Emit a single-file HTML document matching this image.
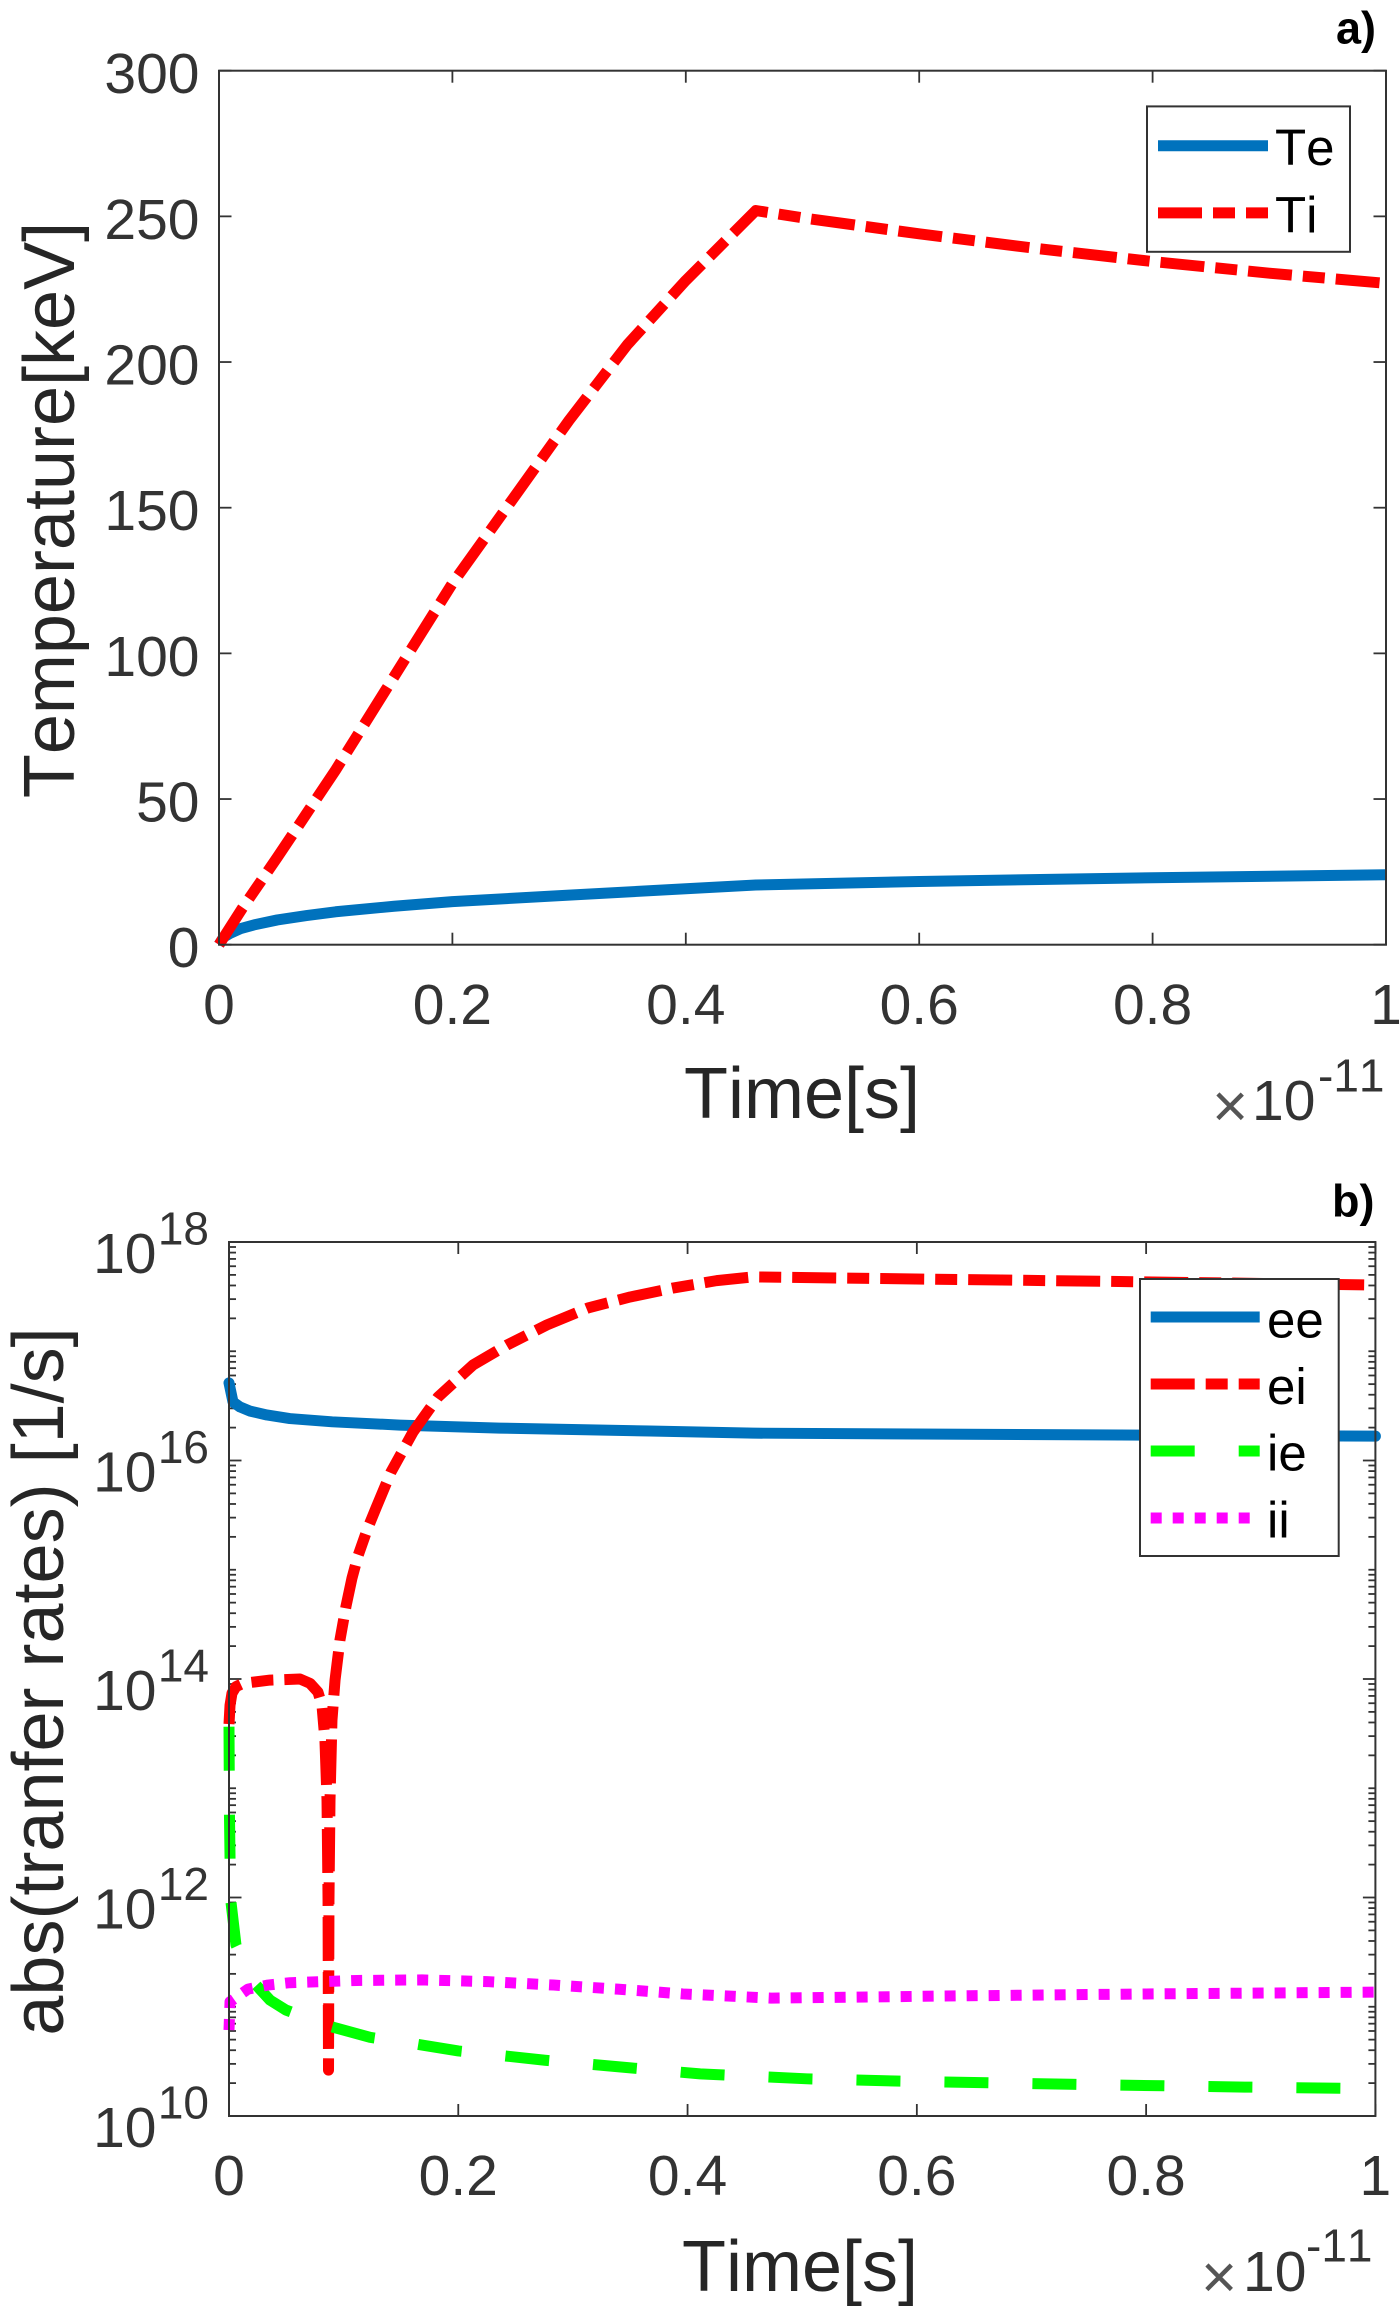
<!DOCTYPE html>
<html lang="en">
<head>
<meta charset="utf-8">
<title>Temperature and transfer rates versus time</title>
<style>
  html, body { margin: 0; padding: 0; background: #fff; }
  svg { display: block; font-family: "Liberation Sans", Arial, sans-serif; font-kerning: none; }
  .tick-label { font-size: 57px; fill: #333; }
  .exponent { font-size: 46px; fill: #333; }
  .axis-title { font-size: 72px; fill: #262626; }
  .legend-text { font-size: 51px; fill: #000; }
  .panel-tag { font-size: 45px; font-weight: 700; fill: #000; }
  .times-sign { font-size: 62px; fill: #555; }
  .frame { fill: none; stroke: #333; stroke-width: 2; }
  .legend-box { fill: #fff; stroke: #333; stroke-width: 2; }
</style>
</head>
<body>
<svg id="figure" width="1400" height="2314" viewBox="0 0 1400 2314" xmlns="http://www.w3.org/2000/svg">
  <rect width="1400" height="2314" fill="#fff"/>

  <g id="panel-a">
    <text class="panel-tag" x="1336" y="43.5">a)</text>
    <g id="a-ticks"></g>
    <g id="a-series"></g>
    <rect class="frame" x="219" y="70.7" width="1167" height="874"/>
    <text class="axis-title" transform="translate(74,510) rotate(-90)" text-anchor="middle">Temperature[keV]</text>
    <text class="axis-title" x="802" y="1118" text-anchor="middle">Time[s]</text>
    <g>
      <text class="times-sign" x="1212" y="1127">×</text>
      <text class="tick-label" x="1252" y="1120">10</text>
      <text class="exponent" x="1318" y="1091.7">-11</text>
    </g>
    <g>
      <rect class="legend-box" x="1147" y="106.4" width="203" height="145.4"/>
      <line x1="1158" x2="1268" y1="145.7" y2="145.7" stroke="#0072BD" stroke-width="11"/>
      <text class="legend-text" x="1275" y="165">Te</text>
      <line x1="1158" x2="1268" y1="212.9" y2="212.9" stroke="#f00" stroke-width="11" stroke-dasharray="44 11 22 11"/>
      <text class="legend-text" x="1275" y="232.5">Ti</text>
    </g>
  </g>

  <g id="panel-b">
    <text class="panel-tag" x="1332" y="1216.7">b)</text>
    <g id="b-ticks"></g>
    <g id="b-series"></g>
    <rect class="frame" x="229" y="1242" width="1146.4" height="874"/>
    <text class="axis-title" transform="translate(63,1681.5) rotate(-90)" text-anchor="middle">abs(tranfer rates) [1/s]</text>
    <text class="axis-title" x="800" y="2291" text-anchor="middle">Time[s]</text>
    <g>
      <text class="times-sign" x="1201" y="2298">×</text>
      <text class="tick-label" x="1243" y="2291">10</text>
      <text class="exponent" x="1306" y="2261.7">-11</text>
    </g>
    <g>
      <rect class="legend-box" x="1140" y="1279" width="198.7" height="277"/>
      <line x1="1150.7" x2="1259.7" y1="1317" y2="1317" stroke="#0072BD" stroke-width="11"/>
      <text class="legend-text" x="1267" y="1337.3">ee</text>
      <line x1="1150.7" x2="1259.7" y1="1384" y2="1384" stroke="#f00" stroke-width="11" stroke-dasharray="44 11 22 11"/>
      <text class="legend-text" x="1267" y="1404">ei</text>
      <line x1="1150.7" x2="1259.7" y1="1451" y2="1451" stroke="#0f0" stroke-width="11" stroke-dasharray="44 44"/>
      <text class="legend-text" x="1267" y="1470.7">ie</text>
      <line x1="1150.7" x2="1259.7" y1="1518" y2="1518" stroke="#f0f" stroke-width="11" stroke-dasharray="11 11"/>
      <text class="legend-text" x="1267" y="1537.3">ii</text>
    </g>
  </g>
</svg>

<script>
// Panel a data (time in units of 1e-11 s, temperature in keV)
const timeTicks = [0, 0.2, 0.4, 0.6, 0.8, 1];
const timeTickLabels = ['0', '0.2', '0.4', '0.6', '0.8', '1'];
const tempTicks = [0, 50, 100, 150, 200, 250, 300];
const tempTickLabels = ['0', '50', '100', '150', '200', '250', '300'];
const teTime = [0, 0.004, 0.01, 0.019, 0.03, 0.05, 0.075, 0.1, 0.15, 0.2, 0.3, 0.4, 0.46, 0.6, 0.8, 1];
const teValues = [0, 2.6, 4, 5.6, 6.8, 8.5, 10, 11.3, 13.2, 14.8, 17, 19.2, 20.5, 21.7, 23, 24];
const tiTime = [0, 0.02, 0.05, 0.1, 0.15, 0.2, 0.25, 0.3, 0.35, 0.4, 0.46, 0.5, 0.6, 0.7, 0.8, 0.9, 1];
const tiValues = [0, 12.5, 30, 60, 92, 124, 152, 180, 206, 228, 252, 249.5, 244, 239, 234.5, 230.5, 227];

// Panel b data (time in units of 1e-11 s, rates in 1/s)
const rateMajorExponents = [10, 12, 14, 16, 18];
const rateDecades = [10, 11, 12, 13, 14, 15, 16, 17];
const rateMinorMultiples = [2, 3, 4, 5, 6, 7, 8, 9];
const eeTime = [0, 0.0035, 0.0096, 0.018, 0.033, 0.053, 0.09, 0.149, 0.236, 0.367, 0.457, 0.777, 1];
const eeValues = [5.13e16, 3.43e16, 3.09e16, 2.84e16, 2.61e16, 2.42e16, 2.26e16, 2.11e16, 1.98e16, 1.86e16, 1.78e16, 1.71e16, 1.67e16];
const eiTime = [0, 0.0009, 0.0026, 0.0061, 0.0122, 0.0358, 0.0619, 0.0707, 0.0776, 0.0811, 0.0837, 0.0855, 0.0864, 0.0868, 0.0872, 0.0881, 0.0898, 0.0925, 0.0968, 0.1021, 0.1073, 0.1125, 0.1204, 0.1282, 0.1413, 0.1605, 0.1823, 0.2128, 0.2425, 0.2773, 0.3132, 0.35, 0.3873, 0.4254, 0.457, 0.79, 1];
const eiValues = [3.87e13, 5.75e13, 7.41e13, 8.51e13, 9.12e13, 9.77e13, 1.0e14, 9.12e13, 7.59e13, 5.75e13, 2.75e13, 7.76e12, 9.55e11, 2.63e10, 9.55e11, 7.76e12, 4.17e13, 9.77e13, 2.28e14, 4.66e14, 8.4e14, 1.34e15, 2.31e15, 3.67e15, 7.85e15, 1.82e16, 3.81e16, 7.48e16, 1.14e17, 1.74e17, 2.49e17, 3.14e17, 3.79e17, 4.43e17, 4.79e17, 4.33e17, 4.04e17];
const ieTime = [0, 0.0004, 0.0009, 0.0017, 0.0061, 0.0218, 0.0358, 0.0497, 0.0881, 0.123, 0.162, 0.2, 0.2756, 0.3515, 0.411, 0.504, 0.581, 0.734, 0.886, 1];
const ieValues = [3.66e13, 5.69e12, 2.34e12, 9.12e11, 3.67e11, 1.66e11, 1.15e11, 9.33e10, 6.61e10, 5.25e10, 4.57e10, 3.94e10, 3.24e10, 2.75e10, 2.43e10, 2.19e10, 2.09e10, 1.95e10, 1.84e10, 1.78e10];
const iiTime = [0, 0.0009, 0.0166, 0.034, 0.0532, 0.1117, 0.1684, 0.225, 0.283, 0.339, 0.396, 0.473, 0.529, 0.645, 0.8, 1];
const iiValues = [6.12e10, 1.11e11, 1.45e11, 1.58e11, 1.66e11, 1.74e11, 1.76e11, 1.7e11, 1.58e11, 1.45e11, 1.31e11, 1.2e11, 1.22e11, 1.26e11, 1.31e11, 1.36e11];

const NS = 'http://www.w3.org/2000/svg';
const aLeft = 219, aRight = 1386, aTop = 70.7, aBottom = 944.7;
const bLeft = 229, bRight = 1375.4, bTop = 1242, bBottom = 2116;

function xA(t) { return aLeft + t * (aRight - aLeft); }
function yA(v) { return aBottom - (v / 300) * (aBottom - aTop); }
function xB(t) { return bLeft + t * (bRight - bLeft); }
function yB(r) { return bBottom - ((Math.log10(r) - 10) / 8) * (bBottom - bTop); }

function make(tag, parent, props, name) {
  const el = document.createElementNS(NS, tag);
  for (const k in props) el.setAttribute(k, props[k]);
  
  
  parent.appendChild(el);
  return el;
}
function tick(parent, x1, y1, x2, y2, name) {
  make('line', parent, { x1: x1, y1: y1, x2: x2, y2: y2, stroke: '#333', 'stroke-width': 1.8 }, name);
}
function series(parent, xs, ys, xf, yf, color, dash, name, cap) {
  const pts = xs.map((t, i) => xf(t).toFixed(2) + ',' + yf(ys[i]).toFixed(2)).join(' ');
  const props = { points: pts, fill: 'none', stroke: color, 'stroke-width': 11, 'stroke-linejoin': 'round', 'stroke-linecap': cap || 'butt' };
  if (dash) props['stroke-dasharray'] = dash;
  make('polyline', parent, props, name);
}
function text(parent, cls, x, y, anchor, content, name) {
  const el = make('text', parent, { class: cls, x: x, y: y, 'text-anchor': anchor }, name);
  el.textContent = content;
}

const aTicks = document.getElementById('a-ticks');
const aSeries = document.getElementById('a-series');
const bTicks = document.getElementById('b-ticks');
const bSeries = document.getElementById('b-series');

// Panel a axes
timeTicks.forEach((t, i) => {
  const x = xA(t);
  tick(aTicks, x, aBottom, x, aBottom - 12, 'panel-a-x-tick-bottom');
  tick(aTicks, x, aTop, x, aTop + 12, 'panel-a-x-tick-top');
  text(aTicks, 'tick-label', x, 1024, 'middle', timeTickLabels[i], 'panel-a-x-tick-label');
});
tempTicks.forEach((v, i) => {
  const y = yA(v);
  tick(aTicks, aLeft, y, aLeft + 12.5, y, 'panel-a-y-tick-left');
  tick(aTicks, aRight, y, aRight - 12.5, y, 'panel-a-y-tick-right');
  text(aTicks, 'tick-label', 199.5, y + 22.5, 'end', tempTickLabels[i], 'panel-a-y-tick-label');
});
series(aSeries, teTime, teValues, xA, yA, '#0072BD', null, 'te-line');
series(aSeries, tiTime, tiValues, xA, yA, '#f00', '44 11 22 11', 'ti-line');

// Panel b axes
timeTicks.forEach((t, i) => {
  const x = xB(t);
  tick(bTicks, x, bBottom, x, bBottom - 12, 'panel-b-x-tick-bottom');
  tick(bTicks, x, bTop, x, bTop + 12, 'panel-b-x-tick-top');
  text(bTicks, 'tick-label', x, 2195, 'middle', timeTickLabels[i], 'panel-b-x-tick-label');
});
rateDecades.forEach(d => {
  rateMinorMultiples.forEach(m => {
    const y = yB(m * Math.pow(10, d));
    tick(bTicks, bLeft, y, bLeft + 7, y, 'panel-b-y-minor-tick-left');
    tick(bTicks, bRight, y, bRight - 7, y, 'panel-b-y-minor-tick-right');
  });
  if (d % 2 === 1) {
    const y = yB(Math.pow(10, d));
    tick(bTicks, bLeft, y, bLeft + 7, y, 'panel-b-y-minor-tick-left');
    tick(bTicks, bRight, y, bRight - 7, y, 'panel-b-y-minor-tick-right');
  }
});
rateMajorExponents.forEach(e => {
  const y = yB(Math.pow(10, e));
  tick(bTicks, bLeft, y, bLeft + 12.5, y, 'panel-b-y-major-tick-left');
  tick(bTicks, bRight, y, bRight - 12.5, y, 'panel-b-y-major-tick-right');
  text(bTicks, 'tick-label', 156.5, y + 31, 'end', '10', 'panel-b-y-tick-base');
  text(bTicks, 'exponent', 209, y + 2.5, 'end', String(e), 'panel-b-y-tick-exponent');
});
series(bSeries, eeTime, eeValues, xB, yB, '#0072BD', null, 'ee-line', 'round');
series(bSeries, eiTime, eiValues, xB, yB, '#f00', '44 11 22 11', 'ei-line');
series(bSeries, ieTime, ieValues, xB, yB, '#0f0', '44 44', 'ie-line');
series(bSeries, iiTime, iiValues, xB, yB, '#f0f', '11 11', 'ii-line');
</script>
</body>
</html>
